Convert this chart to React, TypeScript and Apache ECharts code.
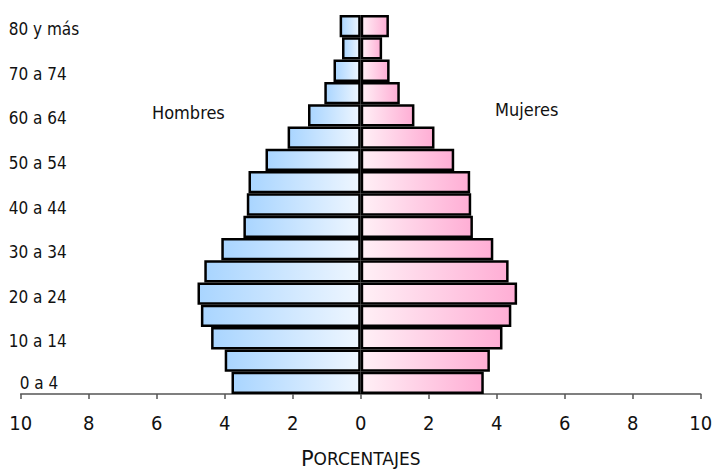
import React, { useEffect, useRef } from "react";
import * as echarts from "echarts";

const ageGroups = [
  "0 a 4", "5 a 9", "10 a 14", "15 a 19", "20 a 24", "25 a 29", "30 a 34", "35 a 39",
  "40 a 44", "45 a 49", "50 a 54", "55 a 59", "60 a 64", "65 a 69", "70 a 74", "75 a 79", "80 y más",
];
const hombres = [3.8, 4.0, 4.4, 4.7, 4.8, 4.6, 4.1, 3.45, 3.35, 3.3, 2.8, 2.15, 1.55, 1.07, 0.8, 0.55, 0.62];
const mujeres = [3.62, 3.8, 4.17, 4.43, 4.6, 4.35, 3.9, 3.3, 3.25, 3.22, 2.75, 2.17, 1.58, 1.15, 0.85, 0.63, 0.83];
const xTicks = { min: -10, max: 10, interval: 2 };
const seriesNames = { male: "Hombres", female: "Mujeres" };
const axisTitle = { first: "P", rest: "ORCENTAJES" };

const FONT = "'DejaVu Sans Condensed', 'DejaVu Sans', sans-serif";

export default function App() {
  const ref = useRef<HTMLDivElement>(null);
  useEffect(() => {
    if (!ref.current) return;
    const chart = echarts.init(ref.current, null, { renderer: "svg" });
    const maleGrad = new echarts.graphic.LinearGradient(0, 0, 1, 0, [
      { offset: 0, color: "#a9d5ff" },
      { offset: 1, color: "#eef6ff" },
    ]);
    const femaleGrad = new echarts.graphic.LinearGradient(0, 0, 1, 0, [
      { offset: 0, color: "#fff0f6" },
      { offset: 1, color: "#ffaed5" },
    ]);
    chart.setOption({
      animation: false,
      backgroundColor: "#ffffff",
      grid: { left: 20.7, right: 11.3, top: 15, bottom: 78, containLabel: false, outerBoundsMode: "none" },
      xAxis: {
        type: "value",
        min: xTicks.min,
        max: xTicks.max,
        interval: xTicks.interval,
        splitLine: { show: false },
        axisLine: { show: true, lineStyle: { color: "#555", width: 1.5 } },
        axisTick: { show: true, length: 5, lineStyle: { color: "#555", width: 1.5 } },
        axisLabel: {
          formatter: (v: number) => String(Math.abs(v)),
          color: "#111",
          fontFamily: FONT,
          fontSize: 20,
          margin: 19,
        },
        name: `{a|${axisTitle.first}}{b|${axisTitle.rest}}`,
        nameLocation: "middle",
        nameGap: 54,
        nameTextStyle: {
          rich: {
            a: { fontFamily: "'DejaVu Sans', sans-serif", fontSize: 21, color: "#111" },
            b: { fontFamily: "'DejaVu Sans', sans-serif", fontSize: 17, color: "#111" },
          },
        },
      },
      yAxis: {
        type: "category",
        data: ageGroups,
        axisLine: { show: false },
        axisTick: { show: false },
        axisLabel: {
          interval: 1,
          align: "left",
          margin: 12,
          formatter: (v: string, i: number) => (i === 0 ? `{first|${v}}` : `{lbl|${v}}`),
          rich: {
            lbl: { fontFamily: FONT, fontSize: 17, color: "#111", padding: [6, 0, 0, 0] },
            first: { fontFamily: FONT, fontSize: 17, color: "#111", padding: [0, 0, 0, 11] },
          },
        },
      },
      graphic: [
        {
          type: "text",
          left: 152,
          top: 103,
          style: { text: seriesNames.male, font: `18px ${FONT}`, fill: "#111" },
        },
        {
          type: "text",
          left: 495,
          top: 100,
          style: { text: seriesNames.female, font: `18px ${FONT}`, fill: "#111" },
        },
      ],
      series: [
        {
          name: seriesNames.male,
          type: "bar",
          data: hombres.map((v) => -v),
          barCategoryGap: 0,
          barGap: "-100%",
          itemStyle: { color: maleGrad, borderColor: "#000", borderWidth: 2.5 },
        },
        {
          name: seriesNames.female,
          type: "bar",
          data: mujeres,
          barCategoryGap: 0,
          barGap: "-100%",
          itemStyle: { color: femaleGrad, borderColor: "#000", borderWidth: 2.5 },
        },
      ],
    });
    return () => chart.dispose();
  }, []);
  return <div ref={ref} style={{ width: 712, height: 472, position: "absolute", left: 0, top: 0 }} />;
}
